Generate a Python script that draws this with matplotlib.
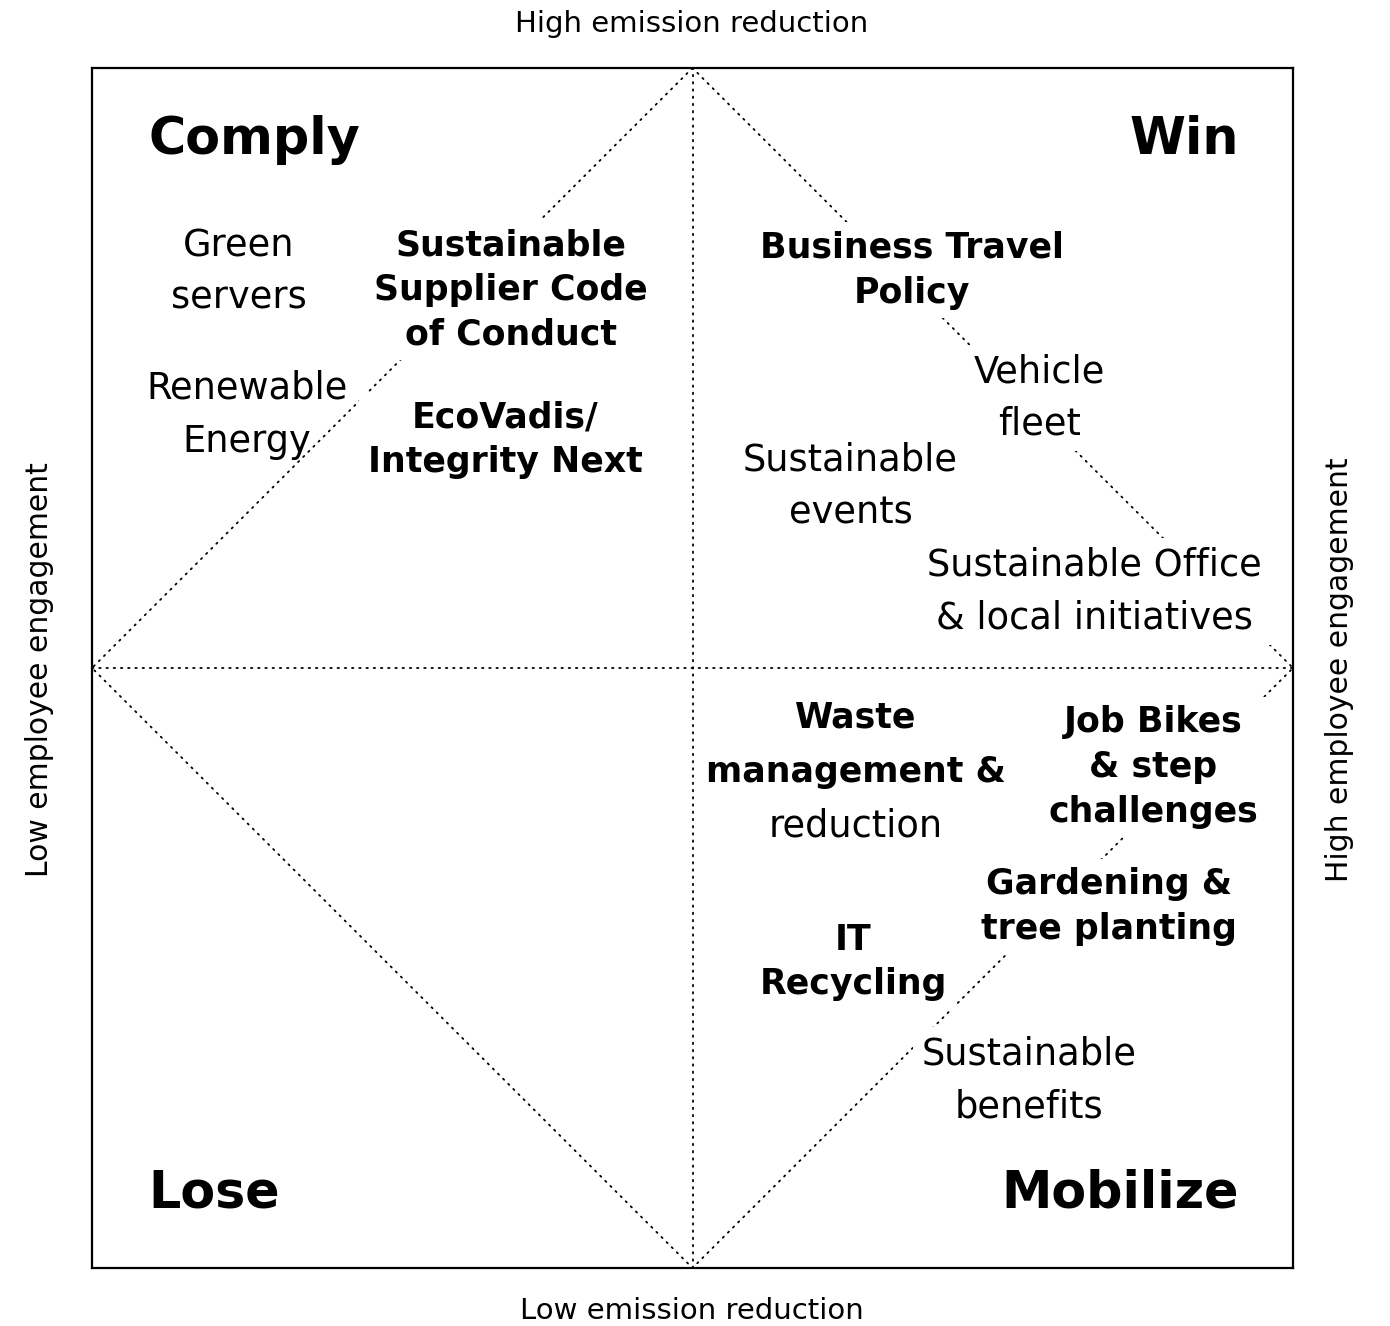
import matplotlib
matplotlib.use("Agg")
import matplotlib.pyplot as plt

plt.rcParams['font.family'] = ['DejaVu Sans']

# quadrant titles
quad_titles = ["Comply", "Win", "Lose", "Mobilize"]
quad_x = [-0.906, 0.910, -0.906, 0.910]
quad_y = [0.880, 0.880, -0.875, -0.875]
quad_ha = ["left", "right", "left", "right"]

# initiatives
items = [
    "Green\nservers",
    "Renewable\nEnergy",
    "Sustainable\nSupplier Code\nof Conduct",
    "EcoVadis/\nIntegrity Next",
    "Business Travel\nPolicy",
    "Vehicle\nfleet",
    "Sustainable\nevents",
    "Sustainable Office\n& local initiatives",
    "Waste",
    "management &",
    "reduction",
    "Job Bikes\n& step\nchallenges",
    "Gardening &\ntree planting",
    "IT\nRecycling",
    "Sustainable\nbenefits",
]
item_x = [-0.755, -0.742, -0.303, -0.312, 0.365, 0.578, 0.263, 0.670, 0.272, 0.272, 0.272, 0.767, 0.693, 0.268, 0.560]
item_y = [0.660, 0.422, 0.630, 0.380, 0.663, 0.450, 0.303, 0.128, -0.082, -0.173, -0.263, -0.165, -0.398, -0.490, -0.687]
item_bold = [False, False, True, True, True, False, False, False, True, True, False, True, True, True, False]
item_mask = [True, False, True, True, True, True, True, True, True, True, True, True, True, True, True]

axis_labels = ["High emission reduction", "Low emission reduction",
               "Low employee engagement", "High employee engagement"]

fig = plt.figure(figsize=(13.90, 13.26), dpi=100)
ax = fig.add_axes([92/1390, 1 - 1268/1326, (1293-92)/1390, (1268-68)/1326])
ax.set_xlim(-1, 1)
ax.set_ylim(-1, 1)
ax.set_xticks([])
ax.set_yticks([])
for s in ax.spines.values():
    s.set_linewidth(1.6)
    s.set_color('black')
    s.set_zorder(10)

dot = dict(color='black', lw=1.3, linestyle=(0, (0.8, 3.2)), dash_capstyle='round', zorder=1)
ax.plot([0, -1, 0, 1, 0], [1, 0, -1, 0, 1], **dot)
ax.plot([0, 0], [-1, 1], **dot)
ax.plot([-1, 1], [0, 0], **dot)

for t, x, y, ha in zip(quad_titles, quad_x, quad_y, quad_ha):
    ax.text(x, y, t, ha=ha, va='center', fontsize=36.5, fontweight='bold', zorder=5)

for t, x, y, b, m in zip(items, item_x, item_y, item_bold, item_mask):
    kw = {}
    if m:
        kw['bbox'] = dict(facecolor='white', edgecolor='none', pad=6)
    ax.text(x, y, t, ha='center', va='center', multialignment='center',
            fontsize=25 if b else 26.5, fontweight='bold' if b else 'normal',
            linespacing=1.40 if b else 1.55, zorder=5, **kw)

fig.text(692/1390, 1 - 24/1326, axis_labels[0], ha='center', va='center', fontsize=21)
fig.text(692/1390, 1 - 1311/1326, axis_labels[1], ha='center', va='center', fontsize=21)
fig.text(40/1390, 1 - 670/1326, axis_labels[2], ha='center', va='center', fontsize=21.5, rotation=90)
fig.text(1340/1390, 1 - 670/1326, axis_labels[3], ha='center', va='center', fontsize=21.5, rotation=90)

fig.savefig("out.png", dpi=100, facecolor='white')
